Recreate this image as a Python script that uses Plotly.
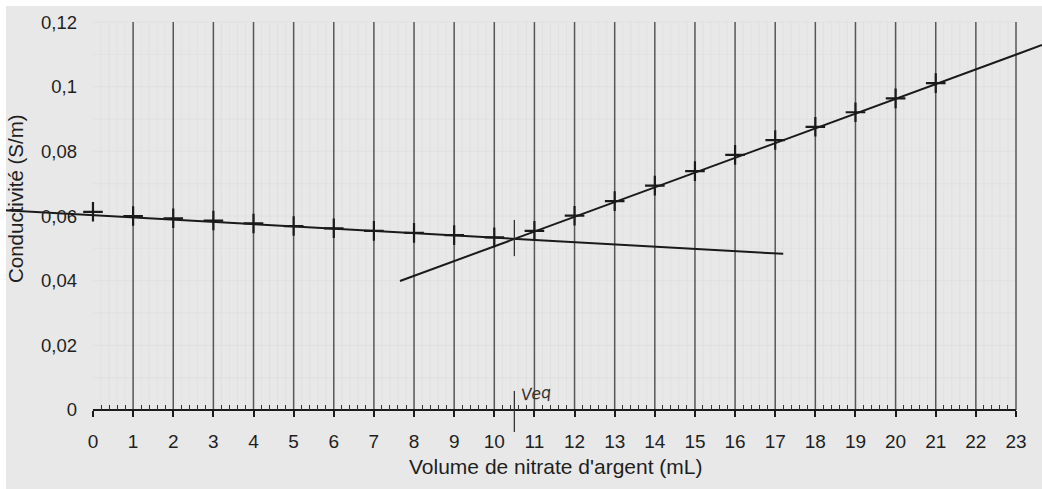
import plotly.graph_objects as go

# ---- data ----
volume_ml = list(range(0, 22))
conductivity = [0.0613, 0.0600, 0.0593, 0.0586, 0.0577, 0.0569, 0.0562, 0.0554,
                0.0548, 0.0541, 0.0534, 0.0554, 0.0601, 0.0646, 0.0694, 0.0739,
                0.0789, 0.0835, 0.0876, 0.0921, 0.0964, 0.1011]

# hand-drawn straight lines (end points)
desc_line_x = [-2.32, 17.2]
desc_line_y = [0.0619, 0.0483]
asc_line_x = [7.65, 23.65]
asc_line_y = [0.0399, 0.1129]

veq = 10.5
veq_mark_upper = [0.0476, 0.0588]
veq_mark_lower = [-0.0068, 0.0059]

x_ticks = list(range(0, 24))
y_ticks = [0, 0.02, 0.04, 0.06, 0.08, 0.10, 0.12]
y_tick_text = ["0", "0,02", "0,04", "0,06", "0,08", "0,1", "0,12"]

x_title = "Volume de nitrate d'argent (mL)"
y_title = "Conductivité (S/m)"

# ---- figure geometry ----
W, H = 1042, 489
x_range = [-2.317, 23.648]
y_range = [-0.02444, 0.12682]

ink = "#1a1a1a"
text_col = "#1f1f1f"
font_family = "Arial, Liberation Sans, sans-serif"

fig = go.Figure()

# faint graph-paper grid
fx, fy = [], []
for i in range(0, 23 * 5 + 1):
    v = i / 5
    if abs(v - round(v)) > 1e-9:
        fx += [v, v, None]
        fy += [0, y_ticks[-1], None]
for j in range(1, 13):
    v = j / 100
    fx += [x_ticks[0], x_ticks[-1], None]
    fy += [v, v, None]
fig.add_trace(go.Scatter(x=fx, y=fy, mode="lines", line=dict(color="#dedede", width=0.7),
                         hoverinfo="skip", showlegend=False))

# major vertical lines
gx, gy = [], []
for t in x_ticks[1:]:
    gx += [t, t, None]
    gy += [0, y_ticks[-1], None]
fig.add_trace(go.Scatter(x=gx, y=gy, mode="lines", line=dict(color="#575757", width=1.5),
                         hoverinfo="skip", showlegend=False))

# x axis line
fig.add_trace(go.Scatter(x=[x_ticks[0], x_ticks[-1]], y=[0, 0], mode="lines",
                         line=dict(color=ink, width=1.8), hoverinfo="skip", showlegend=False))

# fitted lines
fig.add_trace(go.Scatter(x=desc_line_x, y=desc_line_y, mode="lines",
                         line=dict(color=ink, width=2), showlegend=False))
fig.add_trace(go.Scatter(x=asc_line_x, y=asc_line_y, mode="lines",
                         line=dict(color=ink, width=2), showlegend=False))

# measured points
fig.add_trace(go.Scatter(x=volume_ml, y=conductivity, mode="markers",
                         marker=dict(symbol="cross-thin", size=14,
                                     line=dict(color=ink, width=2.2)),
                         showlegend=False))

# Veq marks
fig.add_trace(go.Scatter(x=[veq, veq, None, veq, veq],
                         y=[veq_mark_upper[0], veq_mark_upper[1], None,
                            veq_mark_lower[0], veq_mark_lower[1]],
                         mode="lines", line=dict(color="#333333", width=1.3),
                         hoverinfo="skip", showlegend=False))

fig.add_annotation(x=11.05, y=0.0052, xref="x", yref="y", text="Veq",
                   showarrow=False, textangle=-6,
                   font=dict(family="DejaVu Sans", size=16, color="#333333", style="italic"))

# axis titles
fig.add_annotation(x=556 / W, y=(H - 466) / H, xref="paper", yref="paper", text=x_title,
                   showarrow=False, xanchor="center", yanchor="middle",
                   font=dict(family=font_family, size=21, color=text_col))
fig.add_annotation(x=16 / W, y=(H - 199) / H, xref="paper", yref="paper", text=y_title,
                   showarrow=False, textangle=-90, xanchor="center", yanchor="middle",
                   font=dict(family=font_family, size=20.5, color=text_col))

# white scan borders
fig.add_shape(type="rect", xref="paper", yref="paper", x0=0, x1=1, y0=(H - 6) / H, y1=1,
              fillcolor="white", line=dict(width=0), layer="above")
fig.add_shape(type="rect", xref="paper", yref="paper", x0=0, x1=6 / W, y0=0, y1=1,
              fillcolor="white", line=dict(width=0), layer="above")

minor_x = [i / 5 for i in range(0, 23 * 5 + 1) if i % 5 != 0]

fig.update_layout(
    width=W, height=H, autosize=False,
    margin=dict(l=0, r=0, t=0, b=0),
    paper_bgcolor="#e8e8e8", plot_bgcolor="#e8e8e8",
    xaxis=dict(range=x_range, anchor="free", position=(H - 410) / H,
               tickmode="array", tickvals=x_ticks, ticktext=[str(t) for t in x_ticks],
               ticks="outside", ticklen=6, tickwidth=1.6, tickcolor=ink,
               ticklabelstandoff=8,
               minor=dict(tickmode="array", tickvals=minor_x, ticks="inside",
                          ticklen=5, tickwidth=1.2, tickcolor="#333333"),
               showgrid=False, zeroline=False, showline=False,
               tickfont=dict(family=font_family, size=19, color=text_col)),
    yaxis=dict(range=y_range, anchor="free", position=93 / W,
               tickmode="array", tickvals=y_ticks, ticktext=y_tick_text,
               ticks="", ticklabelstandoff=16,
               showgrid=False, zeroline=False, showline=False,
               tickfont=dict(family=font_family, size=18.5, color=text_col)),
)

fig.write_html("out.html", config={"displayModeBar": False},
               post_script="document.body.style.margin='0';document.body.style.overflow='hidden';")
